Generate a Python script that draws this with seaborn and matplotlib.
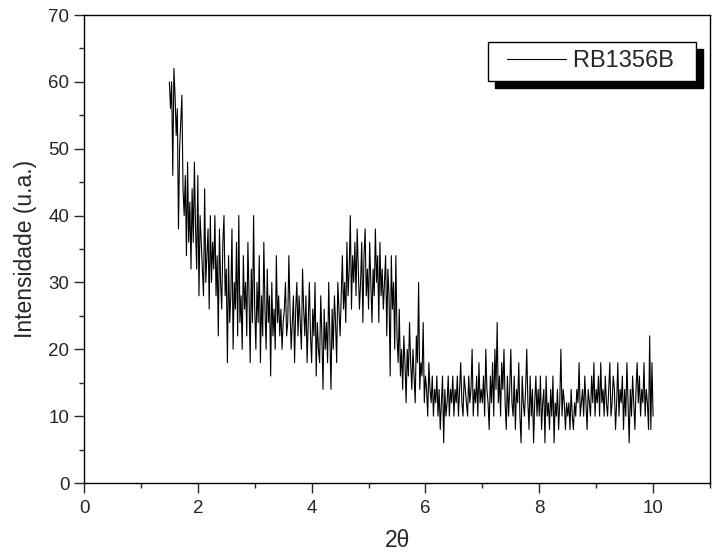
import numpy as np
import pandas as pd
import matplotlib
matplotlib.use("Agg")
import matplotlib.pyplot as plt
import seaborn as sns
from matplotlib.ticker import MultipleLocator
from matplotlib.lines import Line2D
from matplotlib.legend_handler import HandlerLine2D

# Diffractogram (step 0.02 deg from 1.5 to 10)
two_theta_start = 1.5
two_theta_step = 0.02
intensity = [
    60, 56, 60, 46, 62, 58, 52, 56, 38, 50, 54, 58, 44, 40, 46, 34, 48, 36, 42, 32, 44, 36, 48, 38, 32,
    46, 28, 40, 36, 32, 28, 44, 30, 34, 38, 26, 40, 30, 36, 32, 40, 28, 34, 22, 38, 30, 26, 36, 40, 28,
    32, 18, 34, 24, 28, 38, 20, 30, 26, 36, 22, 40, 24, 28, 20, 34, 26, 30, 22, 36, 28, 18, 32, 24, 40,
    26, 20, 30, 24, 34, 18, 28, 22, 36, 26, 20, 32, 24, 28, 16, 30, 22, 26, 20, 34, 24, 28, 22, 26, 20,
    24, 26, 30, 22, 24, 34, 26, 20, 24, 28, 18, 26, 30, 22, 28, 24, 20, 32, 26, 22, 28, 18, 24, 30, 22,
    18, 26, 22, 30, 16, 24, 20, 18, 28, 22, 14, 26, 20, 24, 18, 30, 22, 14, 26, 20, 28, 24, 18, 30, 26,
    22, 28, 34, 26, 30, 24, 36, 28, 32, 40, 26, 34, 30, 36, 28, 38, 32, 26, 30, 36, 24, 34, 38, 28, 32,
    26, 36, 30, 24, 32, 28, 38, 30, 34, 24, 36, 28, 32, 26, 30, 34, 22, 32, 28, 16, 34, 26, 30, 20, 34,
    22, 18, 26, 16, 20, 14, 22, 18, 12, 20, 16, 24, 18, 14, 20, 16, 12, 22, 18, 30, 14, 18, 16, 24, 12,
    16, 14, 10, 18, 14, 12, 16, 10, 14, 12, 16, 10, 14, 8, 12, 16, 6, 14, 10, 12, 16, 10, 14, 12, 16,
    10, 14, 12, 16, 10, 14, 18, 12, 10, 16, 14, 12, 10, 16, 12, 14, 20, 10, 14, 12, 16, 10, 18, 12, 14,
    12, 16, 10, 20, 14, 12, 8, 16, 12, 18, 10, 20, 14, 24, 12, 16, 10, 18, 14, 20, 12, 8, 16, 10, 14,
    20, 12, 10, 16, 8, 14, 12, 18, 10, 6, 16, 12, 10, 14, 20, 12, 8, 16, 10, 14, 6, 12, 16, 10, 14,
    10, 16, 8, 12, 14, 6, 16, 10, 12, 8, 14, 10, 16, 6, 12, 10, 14, 8, 12, 20, 10, 14, 12, 8, 12,
    10, 12, 8, 14, 10, 8, 12, 10, 14, 12, 18, 10, 12, 14, 10, 16, 12, 8, 14, 12, 10, 16, 12, 18, 10,
    14, 12, 16, 10, 18, 12, 14, 10, 16, 12, 10, 14, 18, 10, 12, 16, 14, 8, 12, 18, 10, 14, 12, 16, 8,
    14, 10, 18, 12, 6, 14, 10, 16, 12, 8, 14, 18, 12, 16, 10, 14, 12, 18, 10, 14, 12, 8, 22, 8, 18,
    10,
]
sample_name = "RB1356B"

df = pd.DataFrame({
    "two_theta": two_theta_start + two_theta_step * np.arange(len(intensity)),
    "intensity": intensity,
})

sns.set_style("ticks")
plt.rcParams["font.family"] = ["Liberation Sans", "DejaVu Sans"]

fig = plt.figure(figsize=(7.12, 5.57), dpi=100)
ax = fig.add_axes([84 / 712, 74 / 557, 626 / 712, 468 / 557])

sns.lineplot(data=df, x="two_theta", y="intensity", color="black",
             linewidth=0.8, label=sample_name, ax=ax)

ax.set_xlim(0, 11)
ax.set_ylim(0, 70)
ax.xaxis.set_major_locator(MultipleLocator(2))
ax.xaxis.set_minor_locator(MultipleLocator(1))
ax.yaxis.set_major_locator(MultipleLocator(10))
ax.yaxis.set_minor_locator(MultipleLocator(5))
ax.tick_params(which="major", direction="out", length=7, width=1, labelsize=13.5)
ax.tick_params(which="minor", direction="out", length=3.6, width=1)
ax.tick_params(axis="x", pad=5)
for s in ax.spines.values():
    s.set_linewidth(1)
    s.set_color("black")

ax.set_xlabel("2θ", fontsize=16.5, labelpad=9)
ax.set_ylabel("Intensidade (u.a.)", fontsize=16.5, labelpad=8)

# Origin-style legend: square frame, solid black drop shadow
handles, _ = ax.get_legend_handles_labels()
ax.legend(handles, [sample_name + "  "], loc="upper right",
          bbox_to_anchor=(0.977, 0.942), borderaxespad=0,
          fancybox=False, edgecolor="black", framealpha=1, fontsize=17,
          handlelength=2.95, handletextpad=0.3, borderpad=0.35,
          handler_map={Line2D: HandlerLine2D(xpad=0.45)},
          shadow={"ox": 5, "oy": -5, "color": "black", "alpha": 1})
ax.get_legend().get_frame().set_linewidth(1)

fig.savefig("out.png", dpi=100)
